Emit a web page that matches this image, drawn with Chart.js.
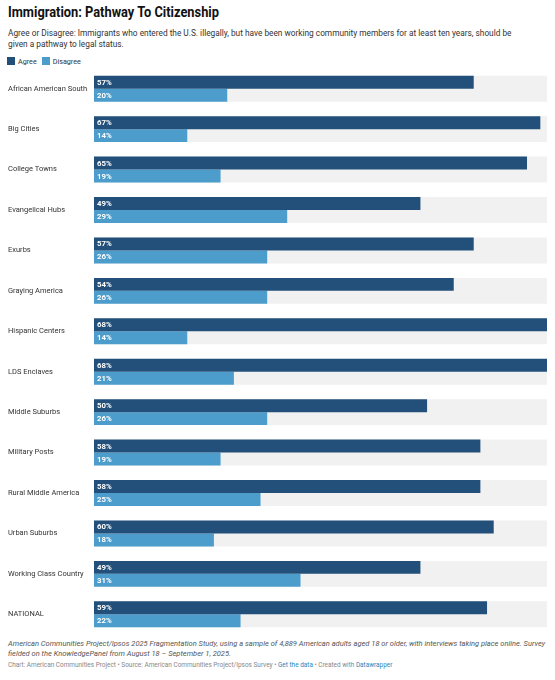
<!DOCTYPE html>
<html><head><meta charset="utf-8">
<script src="https://cdn.jsdelivr.net/npm/chart.js@4"></script>
<style>
body{margin:0;background:#fff;font-family:Roboto,"Noto Sans",sans-serif;color:#222;width:555px;height:680px;position:relative;overflow:hidden}
#title{position:absolute;left:8px;top:4px;font-size:14.5px;font-weight:700;color:#111;line-height:17px;transform:scaleX(0.885);transform-origin:left top;white-space:nowrap}
#sub{position:absolute;left:8px;top:28px;width:515px;font-size:8.3px;line-height:11px;color:#333}
#legend{position:absolute;left:7px;top:57px;font-size:7.2px;color:#333;line-height:10px}
#legend span.sw{display:inline-block;width:8px;height:8px;vertical-align:-1px;margin-right:3px}
#legend span.it{margin-right:5px}
#wrap{position:absolute;left:0;top:64px;width:555px;height:575px}
#note{position:absolute;left:8px;top:639px;width:545px;font-size:7.5px;line-height:10px;font-style:italic;color:#555}
#cred{position:absolute;left:8px;top:661px;font-size:6.45px;color:#888}
#cred a{color:#2a86b8;text-decoration:none}
</style></head><body>
<div id="title">Immigration: Pathway To Citizenship</div>
<div id="sub">Agree or Disagree: Immigrants who entered the U.S. illegally, but have been working community members for at least ten years, should be given a pathway to legal status.</div>
<div id="legend"><span class="sw" style="background:#22507a"></span><span class="it">Agree</span><span class="sw" style="background:#4c9dcb"></span><span class="it">Disagree</span></div>
<div id="wrap"><canvas id="c"></canvas></div>
<div id="note">American Communities Project/Ipsos 2025 Fragmentation Study, using a sample of 4,889 American adults aged 18 or older, with interviews taking place online. Survey fielded on the KnowledgePanel from August 18 – September 1, 2025.</div>
<div id="cred">Chart: American Communities Project • Source: American Communities Project/Ipsos Survey • <a>Get the data</a> • Created with <a>Datawrapper</a></div>
<script>
const categories = ["African American South","Big Cities","College Towns","Evangelical Hubs","Exurbs","Graying America","Hispanic Centers","LDS Enclaves","Middle Suburbs","Military Posts","Rural Middle America","Urban Suburbs","Working Class Country","NATIONAL"];
const agree =    [57,67,65,49,57,54,68,68,50,58,58,60,49,59];
const disagree = [20,14,19,29,26,26,14,21,26,19,25,18,31,22];
const scaleMax = 68;
const background = categories.map(() => scaleMax);

const labelPlugin = {
  id: 'barLabels',
  afterDatasetsDraw(chart) {
    const ctx = chart.ctx;
    ctx.save();
    ctx.fillStyle = '#fff';
    ctx.font = 'bold 7.8px Roboto, sans-serif';
    ctx.textBaseline = 'middle';
    ctx.textAlign = 'left';
    [0, 1].forEach(di => {
      const meta = chart.getDatasetMeta(di);
      const vals = chart.data.datasets[di].data;
      meta.data.forEach((bar, i) => {
        ctx.fillText(vals[i] + '%', bar.base + 3, bar.y + 0.5);
      });
    });
    ctx.restore();
  }
};

new Chart(document.getElementById('c'), {
  type: 'bar',
  data: {
    labels: categories,
    datasets: [
      {label:'Agree', data: agree, backgroundColor:'#22507a', order:1, categoryPercentage:0.642, barPercentage:1},
      {label:'Disagree', data: disagree, backgroundColor:'#4c9dcb', order:1, categoryPercentage:0.642, barPercentage:1},
      {label:'bg', data: background, backgroundColor:'#f1f1f1', order:5, grouped:false, categoryPercentage:0.642, barPercentage:1}
    ]
  },
  options: {
    indexAxis: 'y',
    responsive: true,
    maintainAspectRatio: false,
    animation: false,
    layout: {padding: {left: 8, right: 8, top: 3.75, bottom: 3.75}},
    plugins: {legend: {display: false}, tooltip: {enabled: false}},
    scales: {
      x: {display: false, min: 0, max: scaleMax},
      y: {
        position: 'left',
        grid: {display: false}, border: {display: false},
        ticks: {crossAlign: 'far', color: '#333', font: {family: 'Roboto', size: 7.5}, padding: 0},
        afterFit(s) { s.width = 86; }
      }
    }
  },
  plugins: [labelPlugin]
});
</script>
</body></html>
